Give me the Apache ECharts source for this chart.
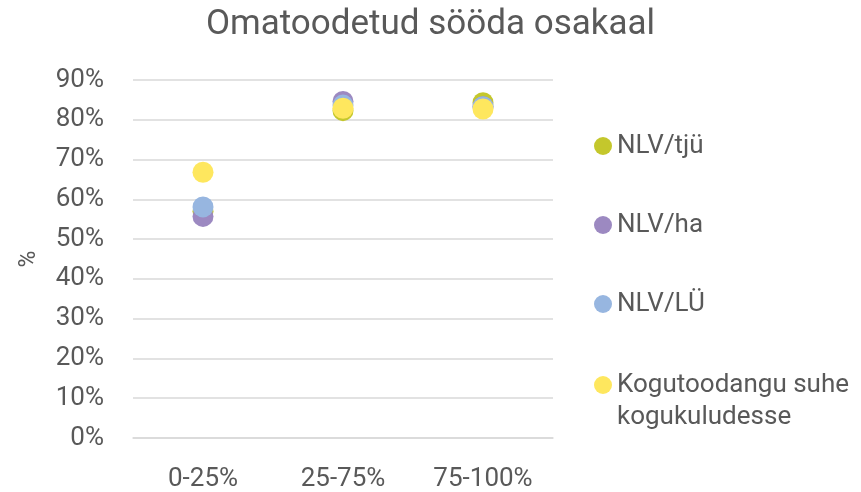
<!DOCTYPE html>
<html>
<head>
<meta charset="utf-8">
<script src="https://cdn.jsdelivr.net/npm/echarts@6/dist/echarts.min.js"></script>
<style>
    html, body { margin: 0; padding: 0; background: #fff; }
    #chart { width: 861px; height: 492px; }
</style>
</head>
<body>
<div id="chart"></div>
<script>
// data (percent)
const categories = ['0-25%', '25-75%', '75-100%'];
const seriesNames = ['NLV/tjü', 'NLV/ha', 'NLV/LÜ', 'Kogutoodangu suhe kogukuludesse'];
const nlvTju = [57, 82.3, 84.3];
const nlvHa = [55.7, 84.6, 83.3];
const nlvLu = [58.1, 83.7, 83.3];
const koguSuhe = [66.8, 82.9, 82.7];
const yTicks = [0, 10, 20, 30, 40, 50, 60, 70, 80, 90];

const colors = ['#c4c72c', '#9c89c1', '#97b6e0', '#fee75e'];
const textColor = '#595959';
const font = 'Roboto';

const chart = echarts.init(document.getElementById('chart'));

function mkSeries(name, data, i) {
    return {
        name: name,
        type: 'scatter',
        data: data,
        symbol: 'circle',
        symbolSize: 21,
        itemStyle: { color: colors[i], opacity: 1 },
        z: 2 + i
    };
}

const legendText = { fontFamily: font, fontSize: 26, color: textColor, lineHeight: 32, padding: [0, 0, 0, 0] };

const option = {
    animation: false,
    color: colors,
    textStyle: { fontFamily: font },
    title: {
        text: 'Omatoodetud sööda osakaal',
        left: 'center',
        top: 3,
        textStyle: { fontFamily: font, fontSize: 35, fontWeight: 'normal', color: textColor }
    },
    legend: [{
        orient: 'vertical',
        left: 589,
        top: 125,
        itemGap: 47,
        icon: 'circle',
        itemWidth: 18,
        itemHeight: 18,
        data: seriesNames.slice(0, 3),
        textStyle: legendText
    }, {
        orient: 'vertical',
        left: 589,
        top: 332,
        icon: 'circle',
        itemWidth: 18,
        itemHeight: 18,
        data: [seriesNames[3]],
        // leading empty line keeps the dot level with the first text line
        formatter: function (name) { return '\n' + name.replace('suhe ', 'suhe\n'); },
        textStyle: legendText
    }],
    grid: {
        left: 133,
        right: 308,
        top: 80,
        bottom: 52
    },
    xAxis: {
        type: 'category',
        data: categories,
        axisLine: { show: true, lineStyle: { color: '#d9d9d9', width: 1.5 } },
        axisTick: { show: false },
        axisLabel: { fontFamily: font, fontSize: 26, color: textColor, margin: 28 },
        splitLine: { show: false }
    },
    yAxis: {
        type: 'value',
        min: yTicks[0],
        max: yTicks[yTicks.length - 1],
        interval: 10,
        name: '%',
        nameLocation: 'middle',
        nameRotate: 90,
        nameGap: 92,
        nameTextStyle: { fontFamily: font, fontSize: 23, color: textColor },
        axisLine: { show: false },
        axisTick: { show: false },
        axisLabel: { fontFamily: font, fontSize: 26, color: textColor, margin: 29, formatter: '{value}%' },
        splitLine: { lineStyle: { color: '#d9d9d9', width: 1.5 } }
    },
    series: [
        mkSeries(seriesNames[0], nlvTju, 0),
        mkSeries(seriesNames[1], nlvHa, 1),
        mkSeries(seriesNames[2], nlvLu, 2),
        mkSeries(seriesNames[3], koguSuhe, 3)
    ]
};

chart.setOption(option);
</script>
</body>
</html>
